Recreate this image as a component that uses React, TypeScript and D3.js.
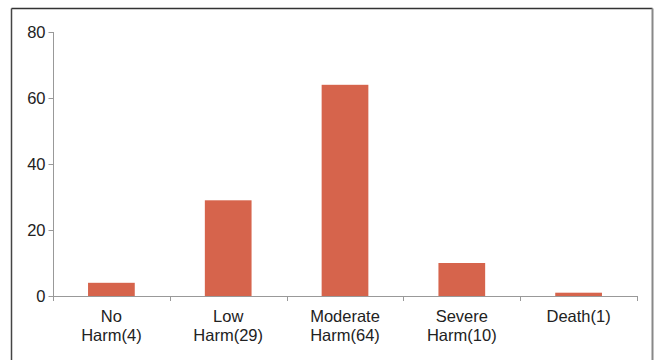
import React, { useEffect, useRef } from 'react'
import * as d3 from 'd3'

const categories = ['No Harm(4)', 'Low Harm(29)', 'Moderate Harm(64)', 'Severe Harm(10)', 'Death(1)']
const labelLines = [['No', 'Harm(4)'], ['Low', 'Harm(29)'], ['Moderate', 'Harm(64)'], ['Severe', 'Harm(10)'], ['Death(1)']]
const counts = [4, 29, 64, 10, 1]
const yTicks = [0, 20, 40, 60, 80]

const W = 655
const H = 360

const App = () => {
  const ref = useRef<SVGSVGElement>(null)

  useEffect(() => {
    const svg = d3.select(ref.current)
    svg.selectAll('*').remove()

    // frame
    const frame = svg.append('g')
    frame.append('line').attr('x1', 11.5).attr('x2', 652.5).attr('y1', 8.5).attr('y2', 8.5)
      .attr('stroke', '#333').attr('stroke-width', 1.5)
    frame.append('line').attr('x1', 11.5).attr('x2', 11.5).attr('y1', 8.5).attr('y2', H)
      .attr('stroke', '#444').attr('stroke-width', 1.5)
    frame.append('line').attr('x1', 652.5).attr('x2', 652.5).attr('y1', 8.5).attr('y2', H)
      .attr('stroke', '#888').attr('stroke-width', 2)

    const x = d3.scaleBand().domain(categories).range([53, 637]).paddingInner(0.6).paddingOuter(0.3)
    const y = d3.scaleLinear().domain([0, 80]).range([296, 32])

    const font = '"Liberation Sans", Arial, sans-serif'
    const fs = 16.5

    // y axis
    const yAxis = svg.append('g').attr('transform', 'translate(53.5,0)')
    yAxis.append('line').attr('x1', 0).attr('x2', 0).attr('y1', y(80)).attr('y2', y(0))
      .attr('stroke', '#999')
    yTicks.forEach(t => {
      yAxis.append('line').attr('x1', -5).attr('x2', 0).attr('y1', y(t) + 0.5).attr('y2', y(t) + 0.5)
        .attr('stroke', '#999')
      yAxis.append('text').attr('x', -8).attr('y', y(t)).attr('dy', '0.36em')
        .attr('text-anchor', 'end').attr('font-family', font).attr('font-size', fs)
        .attr('fill', '#222').text(t)
    })

    // bars
    svg.append('g').selectAll('rect').data(counts).join('rect')
      .attr('x', (d, i) => x(categories[i])!)
      .attr('y', d => y(d))
      .attr('width', x.bandwidth())
      .attr('height', d => y(0) - y(d))
      .attr('fill', '#d6644c')

    // x axis
    const step = (637 - 53) / categories.length
    const xAxis = svg.append('g')
    xAxis.append('line').attr('x1', 53).attr('x2', 637.5).attr('y1', y(0) + 0.5).attr('y2', y(0) + 0.5)
      .attr('stroke', '#999')
    d3.range(categories.length + 1).forEach(i => {
      const px = Math.round(53 + i * step) + 0.5
      xAxis.append('line').attr('x1', px).attr('x2', px).attr('y1', y(0)).attr('y2', y(0) + 5)
        .attr('stroke', '#999')
    })
    categories.forEach((c, i) => {
      const cx = x(c)! + x.bandwidth() / 2
      const t = xAxis.append('text').attr('text-anchor', 'middle').attr('font-family', font)
        .attr('font-size', fs).attr('fill', '#222')
      labelLines[i].forEach((ln, j) => {
        t.append('tspan').attr('x', cx).attr('y', 321.5 + j * 19.5).text(ln)
      })
    })
  }, [])

  return (
    <svg ref={ref} width={W} height={H}
      style={{ position: 'absolute', left: 0, top: 0, background: '#fff' }} />
  )
}

export default App
